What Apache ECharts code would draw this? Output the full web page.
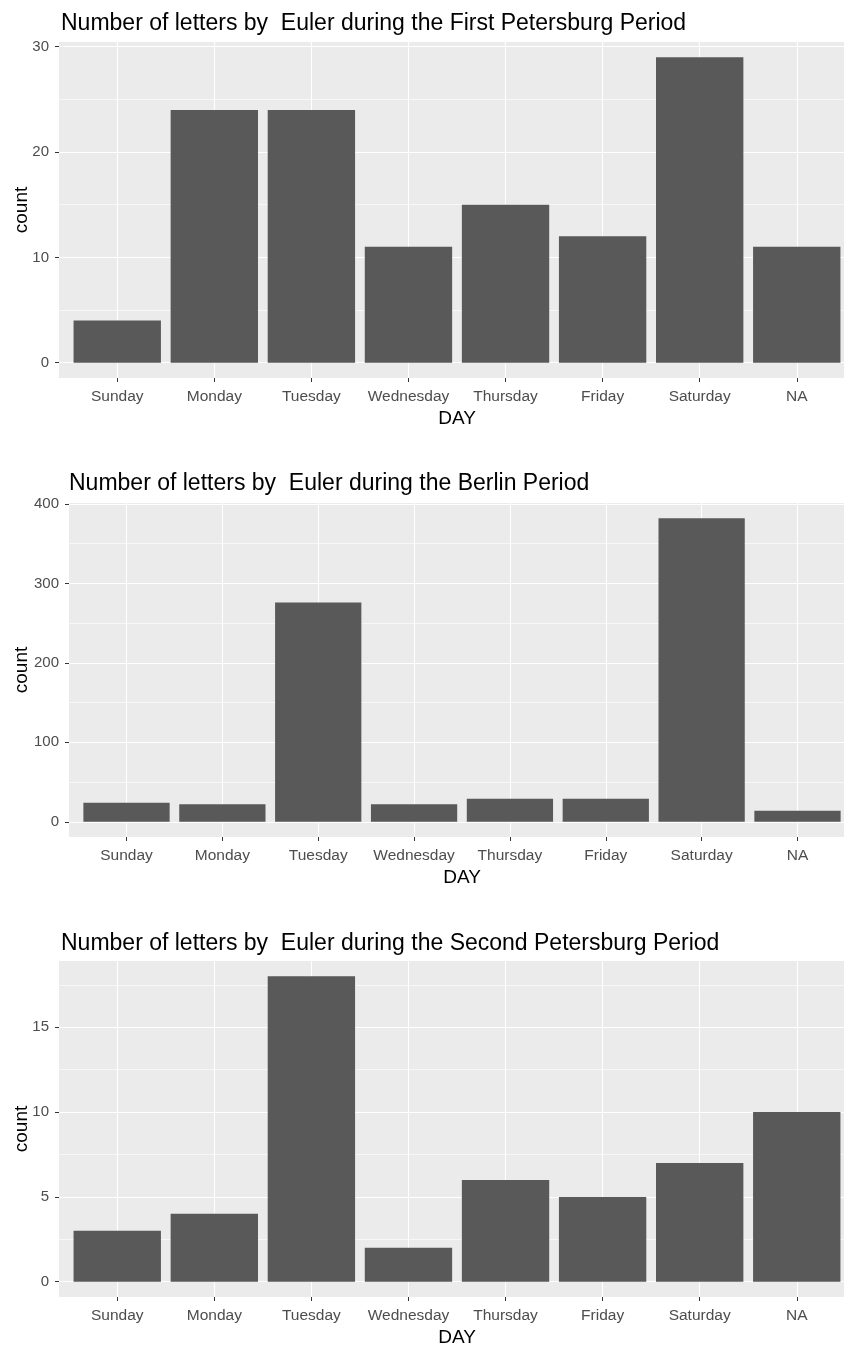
<!DOCTYPE html>
<html><head><meta charset="utf-8">
<script src="https://cdn.jsdelivr.net/npm/echarts@6/dist/echarts.min.js"></script>
<style>html,body{margin:0;padding:0;background:#fff}#c{width:844px;height:1345px}</style>
</head><body><div id="c"></div>
<script>
// ---- data ----
const days = ['Sunday', 'Monday', 'Tuesday', 'Wednesday', 'Thursday', 'Friday', 'Saturday', 'NA'];
const firstPetersburg = [4, 24, 24, 11, 15, 12, 29, 11];
const berlin = [24, 22, 276, 22, 29, 29, 382, 14];
const secondPetersburg = [3, 4, 18, 2, 6, 5, 7, 10];
const titleFirst = 'Number of letters by  Euler during the First Petersburg Period';
const titleBerlin = 'Number of letters by  Euler during the Berlin Period';
const titleSecond = 'Number of letters by  Euler during the Second Petersburg Period';
const majorFirst = [0, 10, 20, 30];
const minorFirst = [5, 15, 25];
const majorBerlin = [0, 100, 200, 300, 400];
const minorBerlin = [50, 150, 250, 350];
const majorSecond = [0, 5, 10, 15];
const minorSecond = [2.5, 7.5, 12.5, 17.5];
const xLabel = 'DAY';
const yLabel = 'count';

// ---- layout ----
const FONT = '"Liberation Sans", Arial, sans-serif';
const PLOT_RIGHT = 855;
const panels = [
  {values: firstPetersburg, title: titleFirst, major: majorFirst, minor: minorFirst,
   top: 42, height: 336, left: 59, titleLeft: 61, titleTop: 12, nameGap: 28},
  {values: berlin, title: titleBerlin, major: majorBerlin, minor: minorBerlin,
   top: 503, height: 334, left: 69, titleLeft: 69, titleTop: 472, nameGap: 38},
  {values: secondPetersburg, title: titleSecond, major: majorSecond, minor: minorSecond,
   top: 961, height: 336, left: 59, titleLeft: 61, titleTop: 932, nameGap: 28}
];

const catPos = days.map((d, i) => i + 1);
const option = {
  backgroundColor: '#ffffff', animation: false,
  title: [], grid: [], xAxis: [], yAxis: [], series: []
};

panels.forEach((p, k) => {
  const maxV = Math.max.apply(null, p.values);
  const yMin = -0.05 * maxV, yMax = 1.05 * maxV;
  option.title.push({
    text: p.title, left: p.titleLeft, top: p.titleTop, padding: 0,
    textStyle: {fontFamily: FONT, fontSize: 23, fontWeight: 'normal', color: '#000'}
  });
  option.grid.push({
    left: p.left, width: PLOT_RIGHT - p.left, top: p.top, height: p.height,
    outerBoundsMode: 'none', containLabel: false,
    show: true, backgroundColor: '#EBEBEB', borderWidth: 0
  });
  option.xAxis.push({
    type: 'value', gridIndex: k, min: 0.4, max: 8.6, position: 'bottom',
    name: xLabel, nameLocation: 'middle', nameGap: 31, nameMoveOverlap: false,
    nameTextStyle: {fontFamily: FONT, fontSize: 19, color: '#000'},
    axisLine: {show: false, onZero: false},
    axisTick: {show: true, length: 4, lineStyle: {color: '#333', width: 1}, customValues: catPos},
    axisLabel: {show: true, customValues: catPos, margin: 11, fontFamily: FONT, fontSize: 15.5, color: '#4D4D4D',
      formatter: v => days[Math.round(v) - 1]},
    splitLine: {show: true, lineStyle: {color: '#FFFFFF', width: 1.1}}
  });
  option.yAxis.push({
    type: 'value', gridIndex: k, min: yMin, max: yMax, position: 'left',
    name: yLabel, nameLocation: 'middle', nameGap: p.nameGap, nameRotate: 90, nameMoveOverlap: false,
    nameTextStyle: {fontFamily: FONT, fontSize: 19, color: '#000'},
    axisLine: {show: false, onZero: false},
    axisTick: {show: true, length: 4, lineStyle: {color: '#333', width: 1}, customValues: p.major},
    axisLabel: {show: true, customValues: p.major, margin: 10, fontFamily: FONT, fontSize: 15, color: '#4D4D4D'},
    splitLine: {show: true, lineStyle: {color: '#FFFFFF', width: 1.1}}
  });
  option.yAxis.push({
    type: 'value', gridIndex: k, min: yMin, max: yMax, position: 'left',
    axisLine: {show: false, onZero: false},
    axisTick: {show: false, customValues: p.minor},
    axisLabel: {show: false, customValues: p.minor},
    splitLine: {show: true, lineStyle: {color: '#FFFFFF', width: 0.6}}
  });
  option.series.push({
    type: 'bar', xAxisIndex: k, yAxisIndex: 2 * k,
    data: days.map((d, i) => [catPos[i], p.values[i]]),
    barWidth: '90%',
    itemStyle: {color: '#595959'},
    silent: true, z: 5
  });
});

const chart = echarts.init(document.getElementById('c'), null, {renderer: 'canvas'});
chart.setOption(option);
</script>
</body></html>
